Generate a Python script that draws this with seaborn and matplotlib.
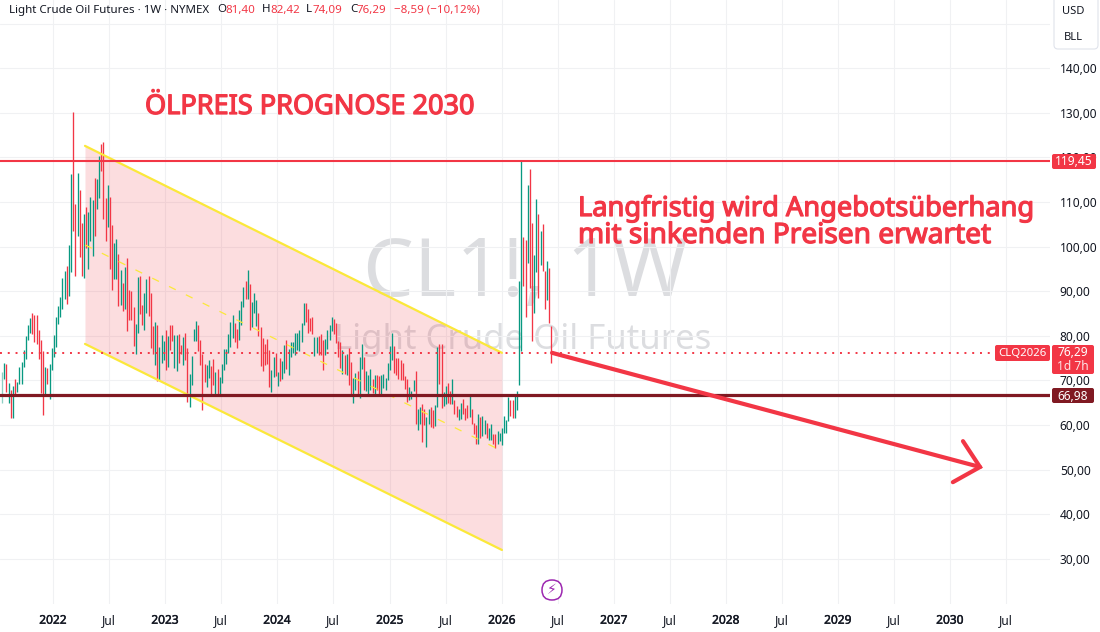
import pandas as pd
import matplotlib.pyplot as plt
import matplotlib.patheffects as pe
from matplotlib.patches import FancyBboxPatch
from matplotlib.transforms import IdentityTransform
import seaborn as sns

# Weekly bars, one entry per week
bar_high = [
    72.0, 73.9, 73.7, 69.5, 67.9, 68.8, 70.4, 69.7, 73.0, 74.1,
    76.9, 80.0, 82.5, 84.0, 85.1, 84.7, 84.7, 81.3, 79.1, 76.6,
    73.0, 72.9, 73.7, 77.3, 80.2, 84.2, 86.7, 88.7, 92.9, 94.6,
    95.7, 100.4, 116.3, 130.1, 109.6, 116.5, 112.7, 105.3, 107.3, 108.9,
    107.8, 111.2, 110.5, 115.4, 115.2, 120.3, 123.0, 123.5, 110.9, 113.8,
    111.2, 104.9, 100.8, 101.7, 98.4, 94.8, 91.9, 95.4, 97.5, 90.3,
    90.1, 86.5, 82.7, 93.2, 93.4, 86.9, 89.6, 92.8, 93.4, 89.6,
    82.2, 83.1, 82.4, 77.5, 80.2, 78.9, 81.3, 80.0, 82.4, 82.4,
    80.2, 80.2, 80.4, 78.0, 79.8, 80.7, 77.3, 71.5, 75.5, 81.5,
    83.3, 82.4, 79.1, 76.0, 73.7, 73.5, 74.6, 73.3, 74.8, 71.9,
    72.6, 70.8, 73.7, 77.1, 77.1, 80.4, 83.1, 84.7, 82.9, 81.6,
    85.8, 87.8, 91.0, 92.3, 94.8, 91.6, 87.6, 89.6, 88.1, 85.1,
    82.0, 79.5, 78.2, 79.3, 76.9, 72.4, 75.3, 76.2, 71.9, 75.1,
    74.4, 78.0, 79.1, 77.1, 78.6, 78.6, 80.7, 80.7, 81.3, 82.9,
    87.4, 87.4, 86.0, 84.0, 84.2, 79.8, 79.8, 80.0, 80.4, 79.1,
    79.2, 81.3, 82.4, 84.2, 83.8, 82.9, 78.9, 78.7, 76.8, 75.7,
    75.9, 77.3, 74.2, 70.6, 71.7, 72.1, 75.3, 78.2, 75.3, 72.1,
    71.2, 72.6, 70.3, 71.2, 71.2, 71.0, 71.2, 71.5, 70.5, 74.0,
    77.7, 80.7, 77.7, 75.1, 75.1, 74.6, 73.9, 71.0, 70.3, 68.5,
    67.7, 70.1, 72.1, 63.6, 64.1, 64.7, 63.6, 61.8, 63.6, 64.1,
    63.4, 64.5, 77.5, 78.2, 78.2, 67.4, 68.8, 69.4, 67.6, 70.3,
    65.6, 64.3, 63.6, 65.0, 65.9, 63.8, 64.5, 66.5, 63.6, 60.5,
    60.0, 62.5, 61.8, 62.0, 61.2, 60.5, 59.4, 60.3, 58.0, 58.0,
    58.7, 58.2, 59.4, 62.0, 61.2, 66.3, 65.6, 65.6, 66.8, 67.7,
    92.3, 119.2, 102.2, 101.5, 113.8, 117.4, 105.3, 98.2, 110.7, 107.3,
    103.5, 105.1, 94.6, 96.8, 95.2, 82.2,
]
bar_low = [
    64.9, 70.4, 67.4, 65.0, 61.6, 61.6, 66.5, 67.4, 69.2, 69.2,
    73.0, 74.8, 79.1, 80.7, 80.4, 78.6, 78.2, 74.8, 67.2, 62.3,
    66.5, 69.2, 65.9, 72.4, 75.3, 77.5, 82.7, 84.2, 86.0, 88.2,
    87.2, 89.0, 94.4, 103.6, 93.5, 102.3, 97.6, 93.5, 92.9, 99.7,
    95.1, 101.3, 98.0, 102.4, 108.5, 110.9, 117.0, 106.2, 101.3, 104.4,
    95.0, 90.3, 92.8, 92.8, 86.7, 86.9, 85.6, 86.0, 81.1, 83.6,
    83.6, 77.7, 76.0, 80.7, 84.9, 82.4, 81.3, 85.1, 84.5, 77.3,
    76.0, 73.5, 69.9, 70.1, 73.9, 74.6, 72.4, 73.0, 76.8, 78.9,
    72.8, 72.1, 73.9, 76.0, 73.5, 74.6, 65.2, 64.1, 69.0, 78.9,
    78.9, 76.6, 73.5, 63.4, 69.7, 68.6, 70.6, 66.8, 69.0, 66.5,
    67.0, 67.0, 69.5, 72.4, 73.7, 76.2, 77.5, 79.5, 78.6, 77.3,
    79.1, 82.5, 86.5, 88.3, 88.3, 81.3, 82.0, 85.1, 82.2, 79.9,
    73.3, 72.1, 73.5, 73.7, 68.6, 67.4, 70.8, 71.0, 68.8, 69.9,
    70.4, 71.7, 72.6, 71.3, 75.3, 76.2, 75.7, 76.9, 76.5, 78.6,
    82.5, 83.1, 80.7, 81.0, 80.4, 75.5, 76.2, 75.7, 75.7, 72.4,
    75.7, 77.1, 79.1, 81.1, 80.4, 78.3, 75.3, 72.7, 71.5, 71.5,
    71.2, 69.0, 66.8, 65.0, 67.9, 67.0, 66.1, 72.6, 67.9, 67.7,
    66.5, 67.9, 67.2, 66.5, 67.9, 66.8, 66.8, 68.3, 67.9, 70.1,
    72.4, 74.6, 71.7, 71.2, 70.3, 70.1, 70.1, 68.1, 65.2, 65.6,
    65.9, 67.7, 60.3, 58.9, 60.3, 56.2, 60.0, 55.1, 60.3, 59.6,
    59.4, 59.8, 64.1, 69.1, 63.8, 64.3, 64.7, 64.9, 64.7, 64.7,
    62.5, 61.8, 61.2, 61.4, 62.5, 61.2, 61.6, 61.8, 60.3, 58.0,
    55.8, 55.8, 57.1, 57.6, 58.0, 57.1, 56.7, 56.7, 55.8, 54.9,
    55.8, 56.4, 55.6, 58.2, 58.2, 60.9, 62.0, 61.6, 61.6, 63.4,
    69.0, 76.6, 91.2, 84.3, 96.4, 90.8, 78.9, 85.2, 94.3, 88.5,
    95.9, 94.6, 86.1, 88.1, 82.9, 74.0,
]
# U = up week, D = down week, F = first bar, faded at the chart edge
bar_dir = list(
    "FUDUDUDUUU" "UUUUDDDDDD" "UDUUUUUUUU" "DUUDDUDDUD"
    "UUUDUUDDDU" "DDUUDUDUDD" "DDUUDDUUDD" "DUDUUUDUDD"
    "UUDDUDDUUU" "UDDDDUUDDU" "DUUUUUUUDD" "UUUDUDUUUD"
    "DDDDDUUDUD" "UUDUUUUUUU" "UDDDDUUDDD" "UUUUDDDDUD"
    "UDDUUDUUDU" "UUDUDDUUUU" "UUDDDDDDDU" "UUDUUDDUUD"
    "DUUDDUUDDU" "DDUUDDDUDD" "DUDUUDUUDD" "UUUUUUDDUU"
    "UUDDUDDUUD" "UDDUDD"
)

# Channel drawn on the chart, in weeks and prices
channel_weeks = [38.45, 232.04]
channel_top = [122.6, 76.2]
channel_mid = [100.4, 54.2]
channel_bottom = [78.2, 32.0]

# Horizontal levels, placed where the chart shows them
resistance_level = 119.2
support_level = 66.64
last_price_level = 76.17

# Forecast arrow
arrow_weeks = [255.3, 454.0]
arrow_prices = [76.2, 50.6]
head_weeks = [446.1, 454.0, 441.4]
head_prices = [56.4, 50.6, 47.2]

price_ticks = [30, 40, 50, 60, 70, 80, 90, 100, 110, 120, 130, 140, 150]
price_labels = ['30,00', '40,00', '50,00', '60,00', '70,00', '80,00', '90,00', '100,00',
                '110,00', '120,00', '130,00', '140,00', '']
week_ticks = [23.6, 49.6, 75.6, 101.6, 127.6, 153.6, 180, 206, 232, 258,
              284, 310, 336, 362, 388, 414, 440, 466]
week_labels = ['2022', 'Jul', '2023', 'Jul', '2024', 'Jul', '2025', 'Jul', '2026', 'Jul',
               '2027', 'Jul', '2028', 'Jul', '2029', 'Jul', '2030', 'Jul']

RED = '#f23645'
DARK_RED = '#801922'
GREEN = '#089981'
YELLOW = '#fbe83a'
INK = '#131722'

sns.set_theme(style='whitegrid', rc={'grid.color': '#f0f1f3', 'grid.linewidth': 0.8})
plt.rcParams['font.family'] = ['Noto Sans', 'DejaVu Sans']

fig = plt.figure(figsize=(11, 6.32), dpi=100)
ax = fig.add_axes([0, 28 / 632, 1050 / 1100, 604 / 632])
ax.set_xlim(-1.012, 486.5)
ax.set_ylim(19.89, 155.3)

# Symbol watermark sits under everything
ax.text(525, 632 - 275, 'CL1!, 1W', transform=IdentityTransform(), color='#dcdde0', fontsize=58,
        ha='center', va='center', zorder=0.5)
ax.text(523, 632 - 340, 'Light Crude Oil Futures', transform=IdentityTransform(), color='#dcdde0',
        fontsize=25, ha='center', va='center', zorder=0.5)

# Each bar is one small low-high line
bars = pd.DataFrame({'bar': range(len(bar_high)), 'high': bar_high, 'low': bar_low, 'dir': bar_dir})
bars_long = bars.melt(id_vars=['bar', 'dir'], value_vars=['low', 'high'], value_name='price')
sns.lineplot(data=bars_long, x='bar', y='price', hue='dir', units='bar', estimator=None,
             palette={'U': GREEN, 'D': RED, 'F': '#8fcfc4'}, linewidth=0.95, legend=False,
             sort=False, ax=ax, zorder=3, solid_capstyle='butt', snap=True)

# Pink channel and its yellow borders
ax.fill_between(channel_weeks, channel_bottom, channel_top, color=RED, alpha=0.17, lw=0, zorder=2)
ax.plot(channel_weeks, channel_top, color=YELLOW, lw=1.6, zorder=4)
ax.plot(channel_weeks, channel_bottom, color=YELLOW, lw=1.6, zorder=4)
ax.plot(channel_weeks, channel_mid, color=YELLOW, lw=0.9, ls=(0, (6, 9)), zorder=4)

ax.axhline(resistance_level, color=RED, lw=1.5, zorder=5)
ax.axhline(support_level, color=DARK_RED, lw=2.3, zorder=5)
ax.axhline(last_price_level, color=RED, lw=1.4, ls=(0, (1, 3)), zorder=5)

ax.plot(arrow_weeks, arrow_prices, color=RED, lw=3, solid_capstyle='round', zorder=6)
ax.plot(head_weeks, head_prices, color=RED, lw=3, solid_capstyle='round', solid_joinstyle='miter', zorder=6)

ax.set_xticks(week_ticks)
ax.set_xticklabels(week_labels, fontsize=8.6, color=INK)
ax.set_yticks(price_ticks)
ax.set_yticklabels(price_labels, fontsize=8.6, color=INK)
ax.yaxis.tick_right()
ax.tick_params(length=0, pad=7)
ax.set_xlabel('')
ax.set_ylabel('')
for spine in ax.spines.values():
    spine.set_visible(False)
ax.grid(True, zorder=1)
ax.set_axisbelow(True)

# Slightly heavier strokes for the year labels and the red headlines
for label, text in zip(ax.get_xticklabels(), week_labels):
    if text != 'Jul':
        label.set_path_effects([pe.withStroke(linewidth=0.3, foreground=INK)])
heavy = [pe.withStroke(linewidth=0.9, foreground=RED)]


def fig_text(x, y, text, **kwargs):
    fig.text(x / 1100, 1 - y / 632, text, va='center', zorder=8, **kwargs)


def tag(x0, y0, x1, y1, color):
    box = FancyBboxPatch((x0, 632 - y1), x1 - x0, y1 - y0, boxstyle='round,pad=0,rounding_size=2',
                         transform=IdentityTransform(), fc=color, ec='none', zorder=7)
    fig.add_artist(box)


# Header line
fig_text(9, 10, 'Light Crude Oil Futures · 1W · NYMEX', fontsize=8.3, color=INK)
header = [(217, 'O', INK), (225, '81,40', RED), (262, 'H', INK), (270, '82,42', RED),
          (306, 'L', INK), (313, '74,09', RED), (350, 'C', INK), (357, '76,29', RED),
          (394, '−8,59 (−10,12%)', RED)]
for x, text, color in header:
    fig_text(x, 10, text, fontsize=8.3, color=color)

# Headline and comment
fig_text(145, 107, 'ÖLPREIS PROGNOSE 2030', fontsize=19.5, color=RED, path_effects=heavy)
fig_text(578, 209, 'Langfristig wird Angebotsüberhang', fontsize=19.6, color=RED, path_effects=heavy)
fig_text(578, 236, 'mit sinkenden Preisen erwartet', fontsize=20.2, color=RED, path_effects=heavy)

# Price tags on the right axis
tag(1052, 154, 1096, 169, RED)
fig_text(1074, 161.5, '119,45', fontsize=8.6, color='white', ha='center')
tag(1052, 345, 1094, 374, RED)
fig_text(1073, 353, '76,29', fontsize=8.6, color='white', ha='center')
fig_text(1073, 367, '1d 7h', fontsize=8.6, color='#fde3e5', ha='center')
tag(995, 345, 1050, 361, RED)
fig_text(1022.5, 353, 'CLQ2026', fontsize=8.2, color='white', ha='center')
tag(1052, 388, 1094, 403, DARK_RED)
fig_text(1073, 396, '66,98', fontsize=8.6, color='white', ha='center')

# Currency and unit box
fig.add_artist(FancyBboxPatch((1054, 632 - 49), 44, 60, boxstyle='round,pad=0,rounding_size=4',
                              transform=IdentityTransform(), fc='white', ec='#e0e3eb', lw=0.8, zorder=7))
fig_text(1073, 11, 'USD', fontsize=8, color=INK, ha='center')
fig_text(1073, 37, 'BLL', fontsize=8, color=INK, ha='center')

# Lightning marker under the last bar
fig.add_artist(FancyBboxPatch((542, 632 - 600), 20, 20, boxstyle='round,pad=0,rounding_size=10',
                              transform=IdentityTransform(), fc='white', ec='#9c27b0', lw=1.1, zorder=7))
fig_text(552, 590, '⚡', fontsize=10, color='#9c27b0', ha='center', family='DejaVu Sans')

fig.savefig('out.png', dpi=100)
